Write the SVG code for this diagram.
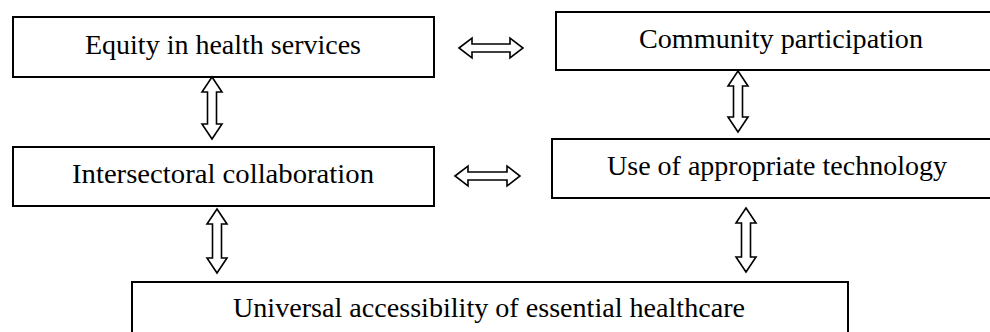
<svg xmlns="http://www.w3.org/2000/svg" width="990" height="332" viewBox="0 0 990 332">
<style>
.box{fill:#fff;stroke:#000;stroke-width:2}
.lbl{font-family:"Liberation Serif","Times New Roman",serif;font-size:28px;fill:#000}
.arr{fill:#fff;stroke:#000;stroke-width:1.6;stroke-linejoin:miter}
</style>
<rect width="990" height="332" fill="#fff"/>
<g id="equity">
<rect class="box" x="13" y="17" width="421" height="60"/>
<text class="lbl" x="85" y="54" textLength="276" lengthAdjust="spacingAndGlyphs">Equity in health services</text>
</g>
<g id="community">
<rect class="box" x="556" y="12" width="460" height="58"/>
<text class="lbl" x="639" y="48" textLength="284" lengthAdjust="spacingAndGlyphs">Community participation</text>
</g>
<g id="intersectoral">
<rect class="box" x="13" y="147" width="421" height="59"/>
<text class="lbl" x="72" y="183" textLength="302" lengthAdjust="spacingAndGlyphs">Intersectoral collaboration</text>
</g>
<g id="technology">
<rect class="box" x="552" y="139" width="460" height="59"/>
<text class="lbl" x="607" y="175" textLength="340" lengthAdjust="spacingAndGlyphs">Use of appropriate technology</text>
</g>
<g id="universal">
<rect class="box" x="132" y="282" width="716" height="80"/>
<text class="lbl" x="233" y="317" textLength="512" lengthAdjust="spacingAndGlyphs">Universal accessibility of essential healthcare</text>
</g>
<g id="connectors">
<path class="arr" d="M459,48 L472,38 L472,44 L510,44 L510,38 L523,48 L510,58 L510,52 L472,52 L472,58 Z"/>
<path class="arr" d="M455,176 L468,166 L468,172 L507,172 L507,166 L520,176 L507,186 L507,180 L468,180 L468,186 Z"/>
<path class="arr" d="M212,77 L222,92 L216.5,92 L216.5,124 L222,124 L212,139 L202,124 L207.5,124 L207.5,92 L202,92 Z"/>
<path class="arr" d="M738,71 L748,86 L742.5,86 L742.5,117 L748,117 L738,132 L728,117 L733.5,117 L733.5,86 L728,86 Z"/>
<path class="arr" d="M217,209 L227,224 L221.5,224 L221.5,258 L227,258 L217,273 L207,258 L212.5,258 L212.5,224 L207,224 Z"/>
<path class="arr" d="M746,208 L756,223 L750.5,223 L750.5,257 L756,257 L746,272 L736,257 L741.5,257 L741.5,223 L736,223 Z"/>
</g>
</svg>
